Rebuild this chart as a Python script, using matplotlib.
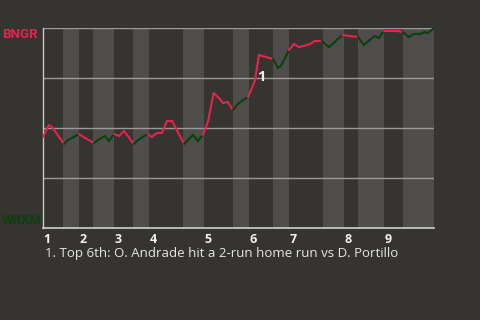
import matplotlib.pyplot as plt
import numpy as np

bg = '#363431'
band = '#4e4d4b'
red = '#e5234f'
green = '#0c400c'

# half-inning boundaries (play index), top/bottom alternate
halves = [0, 5.1, 9.2, 12.8, 18.2, 23.1, 27.2, 35.9, 41.3, 48.7, 52.8, 59.0,
          63.1, 71.8, 77.2, 80.8, 87.4, 92.3, 100.3]
innings = ['1', '2', '3', '4', '5', '6', '7', '8', '9']

# win probability for BNGR (%) by play
plays = [0, 1.5, 2.3, 5.4,
         6.4, 7.9, 9.2,
         10.8, 13.1,
         14.1, 15.9, 16.9, 18.2,
         19.5, 20.8, 23.3,
         24.4, 25.6, 26.9,
         27.9, 29.2, 30.5, 31.5, 31.8, 33.1, 36.2,
         37.4, 38.5, 39.7, 41.0,
         42.3, 43.8, 45.1, 46.2, 47.4, 48.7,
         50.0, 51.3, 52.6,
         53.6, 54.4, 55.4, 56.2, 57.2, 59.0,
         60.3, 61.0, 62.1, 63.1,
         64.4, 65.6, 66.9, 68.5, 69.7, 71.5,
         73.3, 74.6, 75.6, 76.9,
         78.7, 80.8,
         82.3, 83.8, 85.1, 86.2, 87.4,
         89.0, 91.0, 92.3,
         93.8, 95.1, 96.7, 97.9, 98.7, 99.7, 100.3]
wp = [45.5, 51.5, 50.5, 42,
      44, 45.5, 47,
      45, 42.5,
      44, 46, 43.5, 47,
      46, 48.5, 42,
      44, 45.5, 47,
      45.5, 47.5, 47.5, 52, 53.5, 53.5, 42,
      44.5, 46.5, 43.5, 46.5,
      53, 67.5, 65, 62.5, 63, 59,
      62, 64, 65.5,
      70, 74, 86.5, 86, 85.5, 84.5,
      80, 81, 85, 89,
      92, 90.5, 91, 92, 93.5, 93.5,
      90.5, 92.5, 94.5, 96.5,
      96, 95.5,
      91.5, 94, 96, 95, 98.5,
      98.5, 98.5, 98,
      95.5, 97, 97, 98, 97.5, 99, 100]

note_play = 54.8
note_wp = 73.5
caption = '1. Top 6th: O. Andrade hit a 2-run home run vs D. Portillo'

plt.rcParams['font.family'] = ['Open Sans', 'DejaVu Sans']

fig = plt.figure(figsize=(4.8, 3.2), dpi=100, facecolor=bg)
ax = fig.add_axes([43/480, 92/320, 391/480, 200/320])
ax.set_facecolor(bg)

for i in range(len(halves) - 1):
    if i % 2 == 1:
        ax.axvspan(halves[i], halves[i+1], color=band, lw=0, zorder=0)

for y in [25, 50, 75, 100]:
    ax.axhline(y, color='#9b9a98', lw=1, zorder=1)

# colour each segment by the batting team of its half-inning
for i in range(1, len(plays)):
    mid = (plays[i-1] + plays[i]) / 2
    k = np.searchsorted(halves, mid) - 1
    c = red if k % 2 == 0 else green
    ax.plot(plays[i-1:i+1], wp[i-1:i+1], color=c, lw=1.5,
            solid_capstyle='round', zorder=3)

ax.text(note_play, note_wp, '1', color='#f0f0f0', fontsize=10.5,
        fontweight='bold', ha='left', va='baseline', zorder=4)

ax.set_xlim(0, 100.3)
ax.set_ylim(0, 100)
ax.set_xticks([])
ax.set_yticks([])
for s in ['top', 'right']:
    ax.spines[s].set_visible(False)
ax.spines['left'].set_color('#c8c8c8')
ax.spines['bottom'].set_color('#d0d0d0')
ax.spines['left'].set_linewidth(1)
ax.spines['bottom'].set_linewidth(1.2)

for i, lab in enumerate(innings):
    ax.text(halves[2*i] + 0.2, -2.5, lab, color='#f2f2f2', fontsize=9,
            fontweight='bold', ha='left', va='top', clip_on=False)

fig.text(2/480, 1 - 35/320, 'BNGR', color=red, fontsize=9.5, fontweight='bold',
         ha='left', va='center', family=['Roboto', 'DejaVu Sans'])
fig.text(2/480, 1 - 220/320, 'WRXM', color=green, fontsize=9.5,
         fontweight='bold', ha='left', va='center', family=['Roboto', 'DejaVu Sans'])
fig.text(45/480, 1 - 254/320, caption, color='#e6e6e6', fontsize=9.5,
         ha='left', va='center')

fig.savefig('out.png', dpi=100, facecolor=bg)
